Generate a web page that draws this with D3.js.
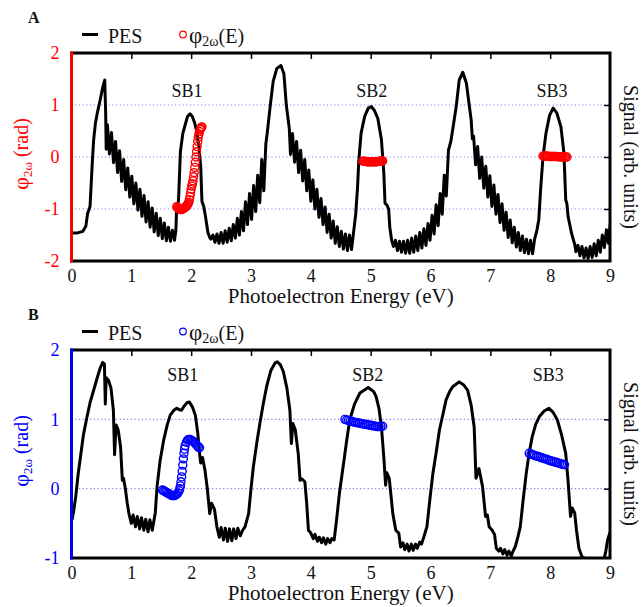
<!DOCTYPE html>
<html>
<head>
<meta charset="utf-8">
<script src="https://cdn.jsdelivr.net/npm/d3@7"></script>
<style>
body { margin: 0; background: #fff; }
svg text { font-family: "Liberation Serif", "DejaVu Serif", serif; }
</style>
</head>
<body>
<svg id="chart" width="642" height="607"></svg>
<script>

///////////////////////////////////////////////////////////////////////////
////////////////////////////////// Data ///////////////////////////////////
///////////////////////////////////////////////////////////////////////////

//x axis: photoelectron energy (eV)
var energyTicks = [0, 1, 2, 3, 4, 5, 6, 7, 8, 9];
var phaseTicksA = [2, 1, 0, -1, -2],
	phaseTicksB = [2, 1, 0, -1];
var gridA = [1, 0, -1],
	gridB = [1, 0];

var sideBands = ["SB1", "SB2", "SB3"];
var sbEnergyA = [1.93, 5.02, 8.03],
	sbEnergyB = [1.86, 4.95, 7.97];

//Photoelectron spectrum, panel A [energy, signal]
var pesA = [
	[0,-1.46],[0.1,-1.46],[0.19,-1.43],[0.24,-1.33],[0.27,-1.08],[0.29,-1.02],[0.31,-0.95],[0.33,-0.5],[0.35,-0.05],[0.37,0.33],[0.4,0.65],[0.43,0.84],[0.48,1.1],[0.52,1.33],[0.555,1.48],[0.57,0.9],[0.58,0.15],
	[0.6,0.62],[0.634,0.06],[0.668,0.47],[0.702,-0.11],[0.736,0.3],[0.77,-0.3],[0.804,0.12],[0.838,-0.47],[0.872,-0.05],[0.906,-0.63],[0.94,-0.21],[0.974,-0.77],[1.008,-0.37],[1.042,-0.9],[1.076,-0.5],[1.11,-1.02],[1.144,-0.62],[1.178,-1.14],
	[1.212,-0.74],[1.246,-1.25],[1.28,-0.86],[1.314,-1.35],[1.348,-0.98],[1.382,-1.44],[1.416,-1.08],[1.45,-1.51],[1.484,-1.18],[1.518,-1.57],[1.552,-1.27],[1.586,-1.61],[1.62,-1.35],[1.654,-1.62],[1.688,-1.41],[1.722,-1.6],
	[1.745,-1.4],[1.755,-1.05],[1.775,-0.98],[1.79,-0.8],[1.82,0.1],[1.86,0.45],[1.9,0.62],[1.94,0.78],[1.98,0.83],[2.02,0.78],[2.06,0.65],[2.09,0.5],[2.13,0.2],[2.16,-0.2],[2.18,-0.85],[2.21,-0.95],[2.24,-1.15],[2.28,-1.45],[2.31,-1.55],
	[2.33,-1.58],[2.364,-1.5],[2.398,-1.64],[2.432,-1.48],[2.466,-1.66],[2.5,-1.45],[2.534,-1.66],[2.568,-1.42],[2.602,-1.64],[2.636,-1.37],[2.67,-1.61],[2.704,-1.3],[2.738,-1.56],[2.772,-1.18],
	[2.806,-1.5],[2.84,-1.05],[2.874,-1.42],[2.908,-0.86],[2.942,-1.3],[2.976,-0.7],[3.01,-1.2],[3.044,-0.55],[3.078,-1.05],[3.112,-0.35],[3.146,-0.88],[3.18,-0.05],[3.214,-0.65],[3.248,0.25],
	[3.27,0.45],[3.32,0.97],[3.37,1.45],[3.43,1.7],[3.5,1.76],[3.55,1.6],[3.59,1.0],[3.64,0.55],
	[3.66,0.05],[3.694,0.45],[3.728,-0.1],[3.762,0.3],[3.796,-0.3],[3.83,0.13],[3.864,-0.46],[3.898,-0.05],[3.932,-0.65],[3.966,-0.25],[4.0,-0.85],[4.034,-0.44],[4.068,-1.0],[4.102,-0.62],[4.136,-1.16],[4.17,-0.8],
	[4.204,-1.3],[4.238,-0.96],[4.272,-1.45],[4.306,-1.1],[4.34,-1.56],[4.374,-1.23],[4.408,-1.66],[4.442,-1.34],[4.476,-1.72],[4.51,-1.43],[4.544,-1.77],[4.578,-1.48],[4.612,-1.8],[4.646,-1.5],[4.68,-1.78],[4.714,-1.45],
	[4.75,-1.1],[4.78,-0.6],[4.8,-0.1],[4.84,0.46],[4.9,0.78],[4.96,0.94],[5.01,0.97],[5.06,0.9],[5.12,0.74],[5.18,0.33],[5.22,-0.31],[5.24,-0.89],[5.27,-0.92],[5.3,-1.0],[5.32,-1.35],[5.35,-1.6],
	[5.38,-1.72],[5.414,-1.6],[5.448,-1.8],[5.482,-1.62],[5.516,-1.83],[5.55,-1.62],[5.584,-1.85],[5.618,-1.6],[5.652,-1.85],[5.686,-1.56],[5.72,-1.83],[5.754,-1.52],[5.788,-1.8],[5.822,-1.45],
	[5.856,-1.75],[5.89,-1.38],[5.924,-1.7],[5.958,-1.28],[5.992,-1.6],[6.026,-1.12],[6.06,-1.48],[6.094,-0.92],[6.128,-1.32],[6.162,-0.7],[6.196,-1.1],[6.23,-0.35],[6.264,-0.75],
	[6.3,0.13],[6.34,0.3],[6.37,0.52],[6.43,0.97],[6.48,1.48],[6.54,1.63],[6.6,1.42],[6.65,0.97],[6.68,0.71],[6.7,0.35],
	[6.72,0.4],[6.754,-0.15],[6.788,0.2],[6.822,-0.41],[6.856,0.0],[6.89,-0.6],[6.924,-0.18],[6.958,-0.77],[6.992,-0.36],[7.026,-0.95],[7.06,-0.54],[7.094,-1.1],[7.128,-0.72],[7.162,-1.26],[7.196,-0.9],[7.23,-1.41],
	[7.264,-1.06],[7.298,-1.55],[7.332,-1.21],[7.366,-1.65],[7.4,-1.35],[7.434,-1.73],[7.468,-1.45],[7.502,-1.8],[7.536,-1.52],[7.57,-1.84],[7.604,-1.58],[7.638,-1.86],[7.672,-1.6],[7.706,-1.86],[7.74,-1.58],
	[7.78,-1.4],[7.81,-1.2],[7.84,-0.63],[7.88,0.0],[7.93,0.46],[7.99,0.8],[8.05,0.94],[8.11,0.85],[8.18,0.58],[8.23,0.08],[8.26,-0.82],[8.28,-0.9],[8.3,-1.15],[8.36,-1.48],[8.41,-1.68],
	[8.43,-1.82],[8.464,-1.7],[8.498,-1.9],[8.532,-1.72],[8.566,-1.94],[8.6,-1.75],[8.634,-1.95],[8.668,-1.72],[8.702,-1.93],[8.736,-1.67],[8.77,-1.9],[8.804,-1.6],[8.838,-1.83],[8.872,-1.5],[8.906,-1.74],[8.94,-1.4],[8.974,-1.66],[9.008,-1.25]
];

//Photoelectron spectrum, panel B [energy, signal]
var pesB = [
	[0.01,-0.45],[0.04,-0.3],[0.07,-0.12],[0.11,0.2],[0.15,0.46],[0.2,0.78],[0.26,1.04],[0.31,1.24],[0.37,1.42],[0.43,1.6],[0.48,1.74],[0.52,1.82],[0.55,1.8],[0.565,1.22],[0.58,1.6],[0.62,1.56],[0.66,1.45],[0.7,1.13],[0.72,0.49],[0.745,0.92],[0.78,0.85],[0.82,0.6],[0.85,0.12],[0.87,0.15],[0.9,0.0],[0.93,-0.2],[0.96,-0.36],
	[1.0,-0.5],[1.03,-0.38],[1.07,-0.55],[1.1,-0.4],[1.14,-0.58],[1.17,-0.42],[1.21,-0.6],[1.24,-0.44],[1.28,-0.62],[1.31,-0.45],[1.35,-0.6],[1.38,-0.45],
	[1.4,-0.35],[1.43,0.03],[1.48,0.4],[1.54,0.7],[1.6,0.92],[1.65,1.06],[1.71,1.13],[1.76,1.16],[1.8,1.14],[1.84,1.13],[1.88,1.19],[1.93,1.24],[1.97,1.25],[2.02,1.18],[2.07,1.06],[2.11,0.8],[2.14,0.51],[2.16,0.37],[2.19,0.45],[2.23,0.27],[2.27,0.0],[2.31,-0.36],[2.34,-0.21],[2.39,-0.3],[2.43,-0.55],
	[2.47,-0.7],[2.5,-0.56],[2.54,-0.74],[2.57,-0.57],[2.61,-0.76],[2.64,-0.58],[2.68,-0.75],[2.71,-0.58],[2.75,-0.72],[2.78,-0.57],[2.82,-0.68],[2.86,-0.6],[2.9,-0.55],
	[2.96,-0.36],[3.0,0.0],[3.04,0.32],[3.1,0.68],[3.15,0.95],[3.2,1.2],[3.26,1.47],[3.33,1.7],[3.4,1.81],[3.44,1.83],[3.49,1.79],[3.54,1.69],[3.6,1.45],[3.65,1.13],[3.675,0.65],[3.7,0.94],[3.74,0.85],[3.79,0.5],[3.82,0.12],[3.85,0.14],[3.9,0.1],[3.93,-0.2],[3.96,-0.6],[4.0,-0.64],
	[4.04,-0.72],[4.07,-0.66],[4.11,-0.76],[4.14,-0.7],[4.18,-0.78],[4.21,-0.71],[4.25,-0.8],[4.28,-0.72],[4.32,-0.78],[4.35,-0.72],[4.39,-0.74],
	[4.43,-0.45],[4.48,-0.05],[4.54,0.32],[4.6,0.7],[4.65,0.99],[4.73,1.22],[4.82,1.38],[4.96,1.46],[5.05,1.4],[5.09,1.33],[5.14,1.15],[5.18,0.89],[5.22,0.45],[5.25,0.05],[5.27,0.23],[5.31,0.15],[5.34,-0.1],[5.37,-0.36],[5.42,-0.6],[5.47,-0.64],[5.5,-0.84],
	[5.54,-0.78],[5.57,-0.88],[5.61,-0.8],[5.64,-0.9],[5.68,-0.8],[5.71,-0.89],[5.75,-0.8],[5.78,-0.86],[5.82,-0.77],[5.85,-0.8],[5.88,-0.72],
	[5.94,-0.55],[5.99,-0.15],[6.04,0.22],[6.1,0.55],[6.15,0.85],[6.21,1.08],[6.26,1.28],[6.32,1.4],[6.37,1.47],[6.48,1.54],[6.55,1.5],[6.62,1.42],[6.68,1.2],[6.73,0.89],[6.76,0.15],[6.81,0.29],[6.87,0.03],[6.92,-0.4],[6.95,-0.38],[6.98,-0.55],[7.03,-0.6],[7.07,-0.66],[7.1,-0.86],
	[7.14,-0.9],[7.17,-0.86],[7.21,-0.94],[7.24,-0.88],[7.28,-0.96],[7.31,-0.9],[7.35,-0.97],[7.38,-0.9],[7.42,-0.83],
	[7.46,-0.7],[7.5,-0.55],[7.55,-0.15],[7.6,0.22],[7.65,0.52],[7.7,0.75],[7.76,0.93],[7.82,1.04],[7.9,1.12],[7.98,1.16],[8.05,1.1],[8.12,0.99],[8.19,0.78],[8.26,0.51],[8.3,0.1],[8.34,-0.4],[8.37,-0.28],[8.41,-0.35],[8.44,-0.6],[8.48,-0.86],[8.53,-0.98],[8.6,-1.02],[8.75,-1.03],[8.9,-1.02],[8.93,-0.9],[8.96,-0.74],[9.0,-0.63]
];

//Two-colour phase phi_2w(E), panel A [energy, rad]
var phaseA_SB1 = [
	[1.76,-0.955],[1.77,-0.97],[1.78,-0.985],[1.79,-0.995],[1.8,-1.0],[1.81,-1.005],[1.82,-1.01],[1.83,-1.01],[1.84,-1.01],[1.85,-1.005],[1.86,-1.0],[1.87,-0.99],[1.88,-0.985],[1.89,-0.975],[1.9,-0.965],[1.91,-0.955],[1.92,-0.945],[1.93,-0.93],[1.94,-0.915],[1.95,-0.9],
	[1.96,-0.87],[1.97,-0.82],[1.98,-0.76],[1.99,-0.69],[2.0,-0.62],[2.01,-0.56],[2.02,-0.52],[2.03,-0.46],[2.04,-0.38],[2.05,-0.3],[2.06,-0.2],[2.07,-0.1],[2.08,0.0],[2.09,0.1],[2.1,0.2],[2.11,0.3],[2.12,0.38],
	[2.13,0.44],[2.14,0.49],[2.15,0.53],[2.16,0.55],[2.17,0.57],[2.18,0.58]
];
var phaseA_SB2 = [
	[4.87,-0.08],[4.885,-0.08],[4.9,-0.085],[4.915,-0.085],[4.93,-0.09],[4.945,-0.09],[4.96,-0.09],[4.975,-0.09],[4.99,-0.09],[5.005,-0.09],[5.02,-0.09],[5.035,-0.09],
	[5.05,-0.09],[5.065,-0.09],[5.08,-0.09],[5.095,-0.09],[5.11,-0.088],[5.125,-0.086],[5.14,-0.085],[5.155,-0.083],[5.17,-0.08],[5.185,-0.078],[5.2,-0.075]
];
var phaseA_SB3 = [
	[7.88,0.02],[7.9,0.02],[7.92,0.02],[7.94,0.015],[7.96,0.015],[7.98,0.01],[8.0,0.01],[8.02,0.01],[8.04,0.01],[8.06,0.01],[8.08,0.01],
	[8.1,0.01],[8.12,0.005],[8.14,0.005],[8.16,0.005],[8.18,0.0],[8.2,0.0],[8.22,0.0],[8.24,0.0],[8.26,0.0],[8.28,0.0]
];

//Two-colour phase phi_2w(E), panel B [energy, rad]
var phaseB_SB1 = [
	[1.52,-0.02],[1.54,-0.03],[1.56,-0.04],[1.58,-0.05],[1.6,-0.06],[1.62,-0.07],[1.64,-0.08],[1.66,-0.09],[1.68,-0.1],[1.7,-0.1],[1.72,-0.1],[1.74,-0.09],[1.76,-0.08],[1.78,-0.06],[1.8,-0.03],
	[1.81,0.0],[1.82,0.04],[1.83,0.1],[1.84,0.17],[1.85,0.25],[1.86,0.34],[1.87,0.43],[1.88,0.51],[1.89,0.57],[1.9,0.62],
	[1.92,0.67],[1.94,0.7],[1.96,0.71],[1.98,0.71],[2.0,0.7],[2.02,0.69],[2.04,0.68],[2.06,0.66],[2.08,0.64],[2.1,0.62],[2.12,0.6],[2.14,0.59]
];
var phaseB_SB2 = [
	[4.57,1.0],[4.6,0.99],[4.63,0.985],[4.66,0.975],[4.69,0.97],[4.72,0.96],[4.75,0.955],[4.78,0.95],[4.81,0.945],[4.84,0.94],[4.87,0.935],
	[4.9,0.93],[4.93,0.925],[4.96,0.92],[4.99,0.915],[5.02,0.91],[5.05,0.905],[5.08,0.9],[5.11,0.895],[5.14,0.895],[5.17,0.9],[5.2,0.9]
];
var phaseB_SB3 = [
	[7.65,0.51],[7.68,0.5],[7.71,0.49],[7.74,0.48],[7.77,0.47],[7.8,0.465],[7.83,0.455],[7.86,0.445],[7.89,0.435],[7.92,0.43],[7.95,0.42],
	[7.98,0.41],[8.01,0.4],[8.04,0.395],[8.07,0.385],[8.1,0.38],[8.13,0.37],[8.16,0.365],[8.19,0.355],[8.22,0.35],[8.24,0.345]
];

///////////////////////////////////////////////////////////////////////////
//////////////////////////// Set up the svg ///////////////////////////////
///////////////////////////////////////////////////////////////////////////

var svg = d3.select("#chart");
var defs = svg.append("defs");

var left = 71.5,
	right = 610;
var textColor = "#111";

var x = d3.scaleLinear().domain([0, 9]).range([left, right]);

function drawPanel(p) {

	var g = svg.append("g").attr("class", "panel-" + p.id);

	var y = d3.scaleLinear().domain(p.yDomain).range([p.bottom, p.top]);

	//Clip the spectrum to the plot area
	defs.append("clipPath")
		.attr("id", "clip-" + p.id)
		.append("rect")
		.attr("x", left)
		.attr("y", p.top)
		.attr("width", right - left)
		.attr("height", p.bottom - p.top);

	//Dotted grid lines
	g.selectAll(".grid")
		.data(p.grid)
		.enter().append("line")
		.attr("class", "grid")
		.attr("x1", left)
		.attr("x2", right)
		.attr("y1", function(d) { return y(d); })
		.attr("y2", function(d) { return y(d); })
		.style("stroke", "#8a8af2")
		.style("stroke-width", 1.2)
		.style("stroke-dasharray", "1.3,2.4");

	//Photoelectron spectrum
	var line = d3.line()
		.x(function(d) { return x(d[0]); })
		.y(function(d) { return y(d[1]); });

	g.append("path")
		.datum(p.pes)
		.attr("clip-path", "url(#clip-" + p.id + ")")
		.attr("d", line)
		.style("fill", "none")
		.style("stroke", "#000")
		.style("stroke-width", 3)
		.style("stroke-linejoin", "round");

	//Phase circles
	p.phase.forEach(function(arr) {
		g.append("g").selectAll("circle")
			.data(arr)
			.enter().append("circle")
			.attr("cx", function(d) { return x(d[0]); })
			.attr("cy", function(d) { return y(d[1]); })
			.attr("r", 4)
			.style("fill", "none")
			.style("stroke", p.color)
			.style("stroke-width", 1.4);
	});

	//Side band labels
	g.selectAll(".sb")
		.data(sideBands)
		.enter().append("text")
		.attr("class", "sb")
		.attr("x", function(d, i) { return x(p.sbEnergy[i]); })
		.attr("y", p.sbY)
		.style("text-anchor", "middle")
		.style("font-size", "18px")
		.style("fill", textColor)
		.text(function(d) { return d; });

	//Frame
	g.append("rect")
		.attr("x", left)
		.attr("y", p.top)
		.attr("width", right - left)
		.attr("height", p.bottom - p.top)
		.style("fill", "none")
		.style("stroke", "#000")
		.style("stroke-width", 3);

	//Coloured left axis
	g.append("line")
		.attr("x1", left).attr("x2", left)
		.attr("y1", p.top - 1.5).attr("y2", p.bottom + 1.5)
		.style("stroke", p.color)
		.style("stroke-width", 3);

	//Inward ticks on top and right
	var topAxis = g.append("g")
		.attr("transform", "translate(0," + p.top + ")")
		.call(d3.axisTop(x).tickValues(d3.range(1, 9)).tickSize(-6).tickFormat(""));
	topAxis.select(".domain").remove();
	topAxis.selectAll("line").style("stroke", "#000").style("stroke-width", 1.5);

	var rightAxis = g.append("g")
		.attr("transform", "translate(" + right + ",0)")
		.call(d3.axisRight(y).tickValues(p.grid).tickSize(-6).tickFormat(""));
	rightAxis.select(".domain").remove();
	rightAxis.selectAll("line").style("stroke", "#000").style("stroke-width", 1.5);

	//Left tick labels
	var leftAxis = g.append("g")
		.attr("transform", "translate(" + left + ",0)")
		.call(d3.axisLeft(y).tickValues(p.ticks).tickSize(0).tickPadding(12)
			.tickFormat(function(d) { return String(d); }));
	leftAxis.select(".domain").remove();
	leftAxis.attr("font-family", null).attr("font-size", null);
	leftAxis.selectAll("text").style("font-size", "18px").style("fill", p.color);

	//Bottom tick labels
	var bottomAxis = g.append("g")
		.attr("transform", "translate(0," + p.bottom + ")")
		.call(d3.axisBottom(x).tickValues(energyTicks).tickSize(0).tickPadding(8)
			.tickFormat(function(d) { return String(d); }));
	bottomAxis.select(".domain").remove();
	bottomAxis.attr("font-family", null).attr("font-size", null);
	bottomAxis.selectAll("text").style("font-size", "18px").style("fill", textColor);

	//x axis title
	g.append("text")
		.attr("x", (left + right) / 2)
		.attr("y", p.bottom + 42)
		.style("text-anchor", "middle")
		.style("font-size", "21px")
		.style("fill", textColor)
		.text("Photoelectron Energy (eV)");

	//Left y title: phi_2w (rad)
	var yTitle = g.append("text")
		.attr("transform", "translate(28," + ((p.top + p.bottom) / 2 - 3) + ") rotate(-90)")
		.style("text-anchor", "middle")
		.style("font-size", "20px")
		.style("fill", p.color);
	yTitle.append("tspan").style("font-size", "22px").text("φ");
	yTitle.append("tspan").attr("dy", 4).style("font-size", "13px").text("2ω");
	yTitle.append("tspan").attr("dy", -4).text(" (rad)");

	//Right y title
	g.append("text")
		.attr("transform", "translate(624," + ((p.top + p.bottom) / 2) + ") rotate(90)")
		.style("text-anchor", "middle")
		.style("font-size", "20px")
		.style("fill", textColor)
		.text("Signal (arb. units)");

	//Panel letter
	g.append("text")
		.attr("x", 28)
		.attr("y", p.top - 30)
		.style("font-size", "16px")
		.style("font-weight", "bold")
		.style("fill", textColor)
		.text(p.id);

	//Legend
	var ly = p.top - 18.5;
	g.append("line")
		.attr("x1", 82).attr("x2", 98)
		.attr("y1", ly).attr("y2", ly)
		.style("stroke", "#000")
		.style("stroke-width", 3);
	g.append("text")
		.attr("x", 108)
		.attr("y", ly + 8)
		.style("font-size", "20px")
		.style("fill", textColor)
		.text("PES");
	g.append("circle")
		.attr("cx", 183)
		.attr("cy", ly)
		.attr("r", 3.3)
		.style("fill", "none")
		.style("stroke", p.color)
		.style("stroke-width", 1.2);
	var lt = g.append("text")
		.attr("x", 189)
		.attr("y", ly + 8)
		.style("font-size", "20px")
		.style("fill", textColor);
	lt.append("tspan").style("font-size", "23px").text("φ");
	lt.append("tspan").attr("dy", 3).style("font-size", "14px").text("2ω");
	lt.append("tspan").attr("dy", -3).text("(E)");

}//drawPanel

drawPanel({
	id: "A", top: 53, bottom: 261, yDomain: [-2, 2], color: "#ff0000",
	ticks: phaseTicksA, grid: gridA, pes: pesA,
	phase: [phaseA_SB1, phaseA_SB2, phaseA_SB3],
	sbEnergy: sbEnergyA, sbY: 97
});

drawPanel({
	id: "B", top: 350, bottom: 558, yDomain: [-1, 2], color: "#0000ff",
	ticks: phaseTicksB, grid: gridB, pes: pesB,
	phase: [phaseB_SB1, phaseB_SB2, phaseB_SB3],
	sbEnergy: sbEnergyB, sbY: 381
});

</script>
</body>
</html>
